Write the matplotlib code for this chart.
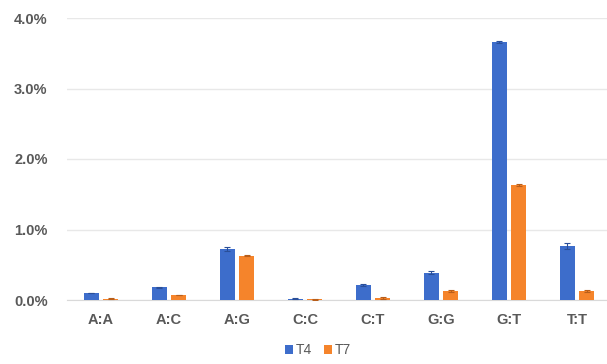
import matplotlib
matplotlib.use("Agg")
import matplotlib.pyplot as plt
import numpy as np
from matplotlib.ticker import FuncFormatter

categories = ["A:A", "A:C", "A:G", "C:C", "C:T", "G:G", "G:T", "T:T"]
t4 = [0.10, 0.18, 0.72, 0.02, 0.21, 0.39, 3.66, 0.77]
t7 = [0.02, 0.07, 0.63, 0.01, 0.03, 0.13, 1.63, 0.13]
t4_err = [0.005, 0.01, 0.025, 0.01, 0.01, 0.015, 0.01, 0.04]
t7_err = [0.01, 0.005, 0.01, 0.005, 0.01, 0.01, 0.01, 0.01]
yticks = [0.0, 1.0, 2.0, 3.0, 4.0]

blue = "#3D6DCB"
orange = "#F5842B"

plt.rcParams["font.family"] = ["Liberation Sans", "DejaVu Sans"]
fig = plt.figure(figsize=(6.07, 3.64), dpi=100)
ax = fig.add_axes([67 / 607, 1 - 300 / 364, 540 / 607, 282 / 364])

x = np.arange(len(categories))
w = 0.22
off = 0.145
ax.bar(x - off, t4, w, color=blue, yerr=t4_err, error_kw=dict(ecolor="#2a4f99", capsize=2, elinewidth=0.8, capthick=0.8), label="T4", zorder=3)
ax.bar(x + off, t7, w, color=orange, yerr=t7_err, error_kw=dict(ecolor="#b85e1a", capsize=2, elinewidth=0.8, capthick=0.8), label="T7", zorder=3)

ax.set_xlim(-0.5, 7.44)
ax.set_ylim(0, 4.0)
ax.set_yticks(yticks)
ax.yaxis.set_major_formatter(FuncFormatter(lambda v, p: f"{v:.1f}%"))
ax.set_xticks(x)
ax.set_xticklabels(categories)
ax.grid(axis="y", color="#e8e8e8", linewidth=1, zorder=0)
for s in ["top", "right", "left"]:
    ax.spines[s].set_visible(False)
ax.spines["bottom"].set_color("#d9d9d9")
ax.tick_params(axis="both", length=0, colors="#595959", labelsize=10.5)
for lab in ax.get_xticklabels() + ax.get_yticklabels():
    lab.set_fontweight("bold")
ax.tick_params(axis="x", pad=9)
ax.tick_params(axis="y", pad=14)

leg = fig.legend(loc="center", bbox_to_anchor=(318 / 607, 1 - 350 / 364), ncol=2, frameon=False,
                 handlelength=0.6, handleheight=0.6, handletextpad=0.2, columnspacing=0.8,
                 fontsize=10)
for t in leg.get_texts():
    t.set_color("#595959")

fig.savefig("out.png", dpi=100)
